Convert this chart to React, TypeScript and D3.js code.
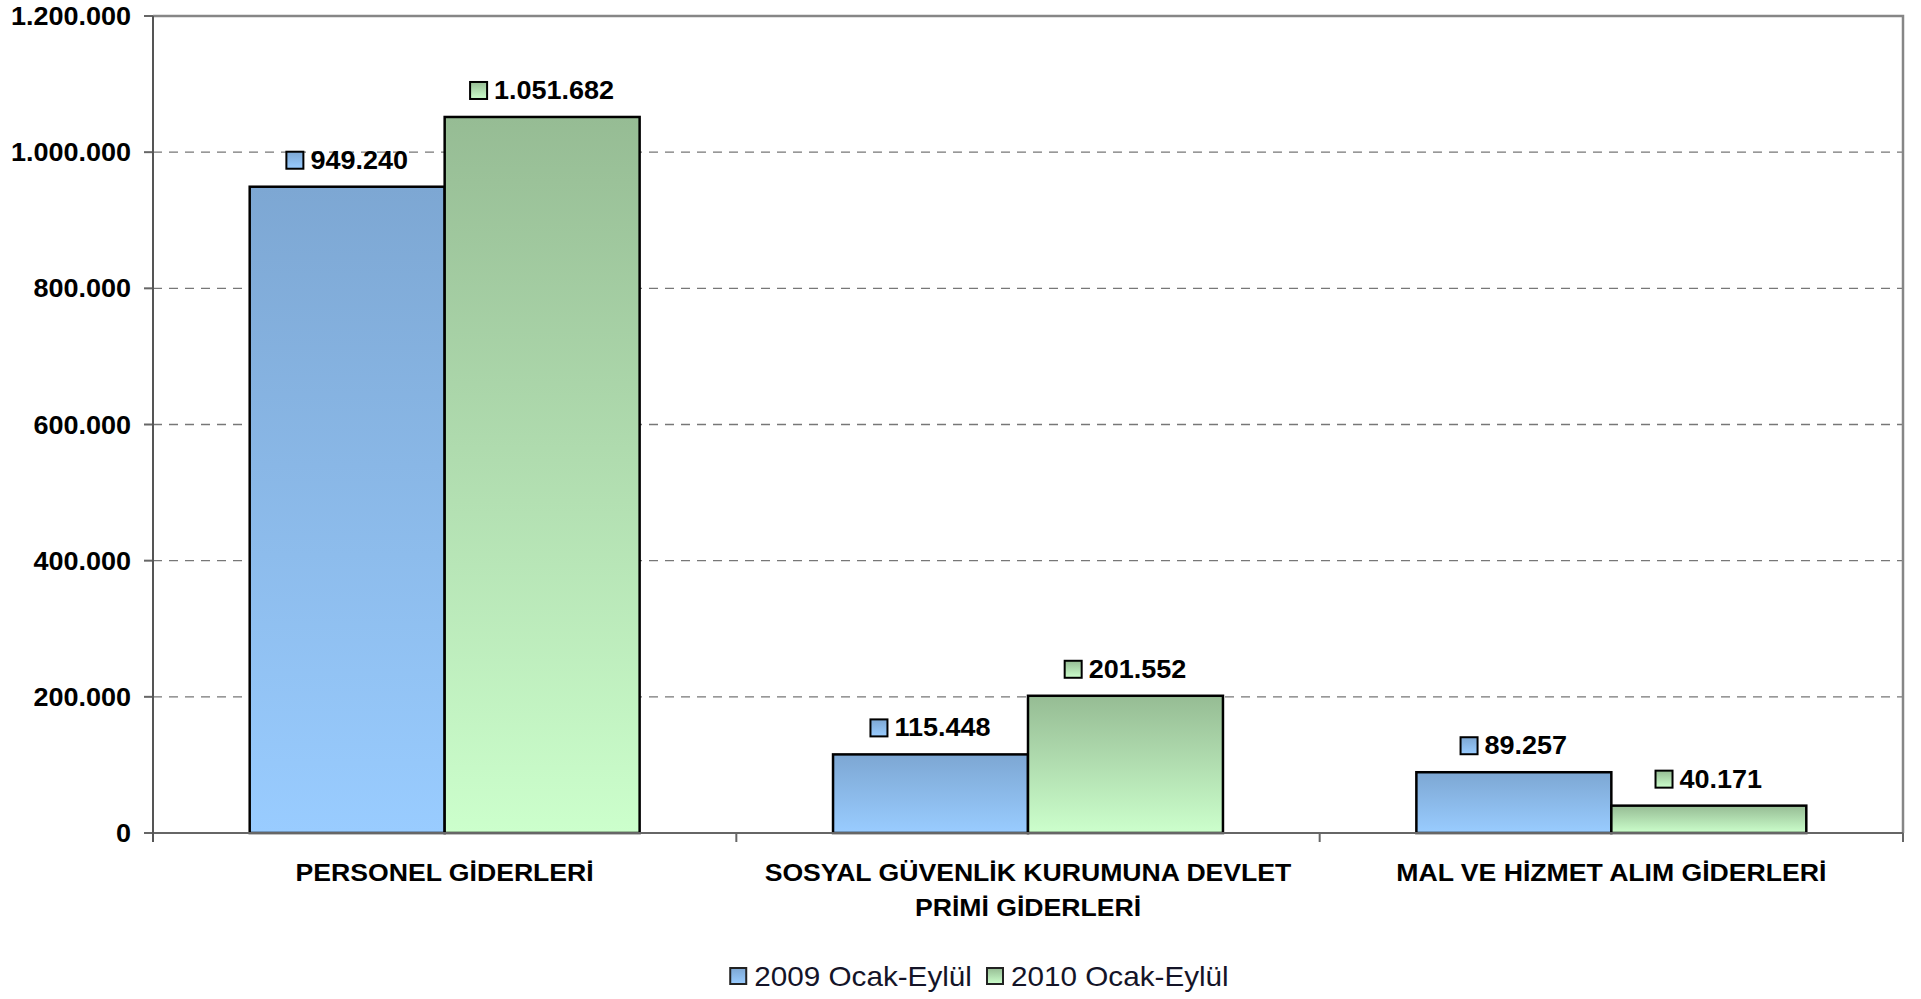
import { useEffect, useRef } from 'react'
import * as d3 from 'd3'

// chart data
const categories = [
  ['PERSONEL GİDERLERİ'],
  ['SOSYAL GÜVENLİK KURUMUNA DEVLET', 'PRİMİ GİDERLERİ'],
  ['MAL VE HİZMET ALIM GİDERLERİ'],
]
const seriesNames = ['2009 Ocak-Eylül', '2010 Ocak-Eylül']
const values2009 = [949240, 115448, 89257]
const values2010 = [1051682, 201552, 40171]
const yTicks = [0, 200000, 400000, 600000, 800000, 1000000, 1200000]

const width = 1921
const height = 999
const FONT = '"Liberation Sans", Arial, sans-serif'
const SX = 1.08 // the original text is a little wider than Arial

const gradients = [
  { id: 'gBlue', top: '#7DA7D3', bottom: '#99CCFF' },
  { id: 'gGreen', top: '#96BC94', bottom: '#CCFFCC' },
]

const fmt = d3.formatLocale({
  decimal: ',',
  thousands: '.',
  grouping: [3],
  currency: ['', ''],
}).format(',d')

const App = () => {
  const svgRef = useRef<SVGSVGElement | null>(null)

  useEffect(() => {
    document.body.style.margin = '0'
    const left = 153
    const right = 1903
    const top = 16
    const bottom = 833

    const series = [values2009, values2010]
    const x = d3
      .scaleBand<number>()
      .domain(d3.range(categories.length))
      .range([left, right])
    const xInner = d3
      .scaleBand<number>()
      .domain(d3.range(series.length))
      .range([0, x.bandwidth()])
      .paddingOuter(0.496)
    const y = d3.scaleLinear().domain([0, 1200000]).range([bottom, top])

    const svg = d3.select(svgRef.current)
    svg.selectAll('*').remove()

    const defs = svg.append('defs')
    gradients.forEach((g) => {
      const lg = defs
        .append('linearGradient')
        .attr('id', g.id)
        .attr('x1', 0)
        .attr('y1', 0)
        .attr('x2', 0)
        .attr('y2', 1)
      lg.append('stop').attr('offset', '0%').attr('stop-color', g.top)
      lg.append('stop').attr('offset', '100%').attr('stop-color', g.bottom)
    })

    // grid lines
    svg
      .append('g')
      .selectAll('line')
      .data(yTicks.filter((t) => t > 0 && t < 1200000))
      .join('line')
      .attr('x1', left)
      .attr('x2', right)
      .attr('y1', (d) => y(d))
      .attr('y2', (d) => y(d))
      .attr('stroke', '#777')
      .attr('stroke-width', 1.4)
      .attr('stroke-dasharray', '9,7')

    // plot border top / right
    svg
      .append('path')
      .attr('d', `M${left},${top}H${right}V${bottom}`)
      .attr('fill', 'none')
      .attr('stroke', '#868686')
      .attr('stroke-width', 2.5)

    // y ticks + labels
    const yAxis = svg.append('g')
    yAxis
      .selectAll('line')
      .data(yTicks)
      .join('line')
      .attr('x1', left - 9)
      .attr('x2', left)
      .attr('y1', (d) => y(d))
      .attr('y2', (d) => y(d))
      .attr('stroke', '#666')
      .attr('stroke-width', 2)
    yAxis
      .selectAll('text')
      .data(yTicks)
      .join('text')
      .attr('transform', (d) => `translate(131,${y(d) + 9}) scale(${SX},1)`)
      .attr('text-anchor', 'end')
      .style('font-family', FONT)
      .style('font-weight', 'bold')
      .style('font-size', '25px')
      .attr('fill', '#000')
      .text((d) => fmt(d))

    // bars
    series.forEach((vals, s) => {
      svg
        .append('g')
        .selectAll('rect')
        .data(vals)
        .join('rect')
        .attr('x', (d, i) => (x(i) as number) + (xInner(s) as number))
        .attr('width', xInner.bandwidth())
        .attr('y', (d) => y(d))
        .attr('height', (d) => bottom - y(d))
        .attr('fill', `url(#${gradients[s].id})`)
        .attr('stroke', '#000')
        .attr('stroke-width', 2.5)
    })

    // axis lines on top of bars
    svg
      .append('line')
      .attr('x1', left - 9)
      .attr('x2', right)
      .attr('y1', bottom)
      .attr('y2', bottom)
      .attr('stroke', '#666')
      .attr('stroke-width', 2)
    svg
      .append('line')
      .attr('x1', left)
      .attr('x2', left)
      .attr('y1', top)
      .attr('y2', bottom + 9)
      .attr('stroke', '#555')
      .attr('stroke-width', 2)
    svg
      .append('g')
      .selectAll('line')
      .data(d3.range(1, categories.length + 1))
      .join('line')
      .attr('x1', (d) => left + d * x.step())
      .attr('x2', (d) => left + d * x.step())
      .attr('y1', bottom)
      .attr('y2', bottom + 9)
      .attr('stroke', '#666')
      .attr('stroke-width', 2)

    // value labels with the small series marker
    series.forEach((vals, s) => {
      vals.forEach((v, i) => {
        const cx = (x(i) as number) + (xInner(s) as number) + xInner.bandwidth() / 2
        const cy = y(v) - 27
        const g = svg.append('g')
        const t = g
          .append('text')
          .style('font-family', FONT)
          .style('font-weight', 'bold')
          .style('font-size', '25px')
          .attr('fill', '#000')
          .text(fmt(v))
        const tw = (t.node() as SVGTextElement).getComputedTextLength() * SX
        const gw = 18 + 6 + tw
        const x0 = cx - gw / 2
        t.attr('transform', `translate(${x0 + 24},${cy + 9}) scale(${SX},1)`)
        g.append('rect')
          .attr('x', x0)
          .attr('y', cy - 8)
          .attr('width', 17)
          .attr('height', 17)
          .attr('fill', `url(#${gradients[s].id})`)
          .attr('stroke', '#000')
          .attr('stroke-width', 2)
      })
    })

    // category labels
    categories.forEach((lines, i) => {
      const cx = (x(i) as number) + x.bandwidth() / 2
      lines.forEach((line, j) => {
        svg
          .append('text')
          .attr('transform', `translate(${cx},${881 + j * 34.5}) scale(1.1,1)`)
          .attr('text-anchor', 'middle')
          .style('font-family', FONT)
          .style('font-weight', 'bold')
          .style('font-size', '24.2px')
          .attr('fill', '#000')
          .text(line)
      })
    })

    // legend
    const legend = svg.append('g')
    const items = seriesNames.map((name, s) => {
      const g = legend.append('g')
      const t = g
        .append('text')
        .style('font-family', FONT)
        .style('font-size', '28px')
        .attr('fill', '#141428')
        .text(name)
      const tw = (t.node() as SVGTextElement).getComputedTextLength() * 1.06
      return { g, t, tw, s }
    })
    const itemW = items.map((it) => 17 + 7 + it.tw)
    const gap = 15
    const total = d3.sum(itemW) + gap * (items.length - 1)
    let lx = 979.5 - total / 2
    items.forEach((it, k) => {
      it.g
        .append('rect')
        .attr('x', lx)
        .attr('y', 968)
        .attr('width', 16)
        .attr('height', 16)
        .attr('fill', `url(#${gradients[it.s].id})`)
        .attr('stroke', '#222')
        .attr('stroke-width', 2)
      it.t.attr('transform', `translate(${lx + 24},${986}) scale(1.06,1)`)
      lx += itemW[k] + gap
    })
  }, [])

  return <svg ref={svgRef} width={width} height={height} style={{ display: 'block' }} />
}

export default App
